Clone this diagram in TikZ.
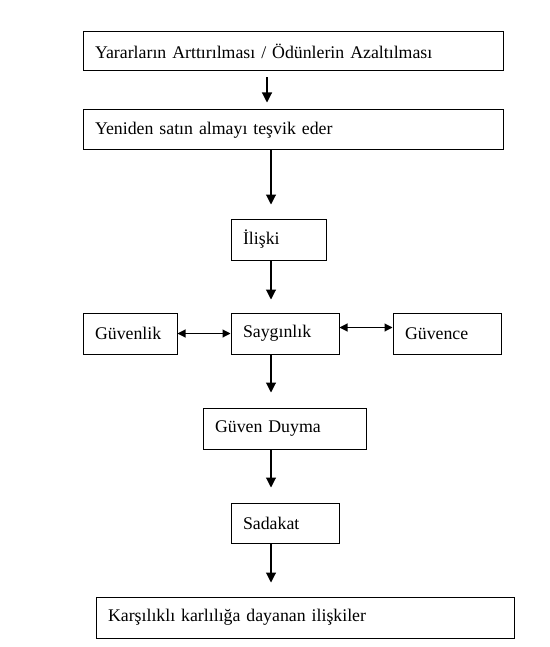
\documentclass[tikz,border=0pt]{standalone}
\usepackage{fontspec}
\setmainfont{Liberation Serif}
\usetikzlibrary{arrows.meta,calc}

\begin{document}
\begin{tikzpicture}[x=1pt,y=-1pt,
    kutu/.style={draw,line width=1pt,minimum height=41pt,inner xsep=12pt,
        align=left,font=\fontsize{17.8}{21}\selectfont},
    ok/.style={-{Triangle[length=10pt,width=10pt]},line width=1.1pt},
    ciftok/.style={{Triangle[length=8pt,width=8pt]}-{Triangle[length=8pt,width=8pt]},line width=1.1pt}]
    \useasboundingbox (0,0) rectangle (549,647);
    % kutular
    \node[kutu,text width=396pt,minimum height=39pt] (yarar) at (293,51.5)
        {Yararların Arttırılması / Ödünlerin Azaltılması};
    \node[kutu,text width=396pt,minimum height=40pt] (satin) at (293,130)
        {Yeniden satın almayı teşvik eder};
    \node[kutu,text width=71pt] (iliski) at (278.5,239.5) {İlişki};
    \node[kutu,text width=70pt] (guvenlik) at (130,333.5) {Güvenlik};
    \node[kutu,text width=84pt] (saygi) at (285,333.5) {Saygınlık};
    \node[kutu,text width=84pt] (guvence) at (447,333.5) {Güvence};
    \node[kutu,text width=139pt] (duyma) at (284.5,428.5) {Güven Duyma};
    \node[kutu,text width=84pt,minimum height=40pt] (sadakat) at (285,523) {Sadakat};
    \node[kutu,text width=394pt] (karsilik) at (305,617.5)
        {Karşılıklı karlılığa dayanan ilişkiler};
    % oklar
    \coordinate (k1) at (267,0);
    \coordinate (k2) at (271,0);
    \draw[ok] ($(yarar.south -| k1)+(0,6)$) -- ($(satin.north -| k1)+(0,-7)$);
    \draw[ok] (satin.south -| k2) -- ($(iliski.north -| k2)+(0,-14)$);
    \draw[ok] (iliski.south -| k2) -- ($(saygi.north -| k2)+(0,-13)$);
    \draw[ok] (saygi.south -| k2) -- ($(duyma.north -| k2)+(0,-15)$);
    \draw[ok] (duyma.south -| k2) -- ($(sadakat.north -| k2)+(0,-15)$);
    \draw[ok] (sadakat.south -| k2) -- ($(karsilik.north -| k2)+(0,-14)$);
    \draw[ciftok] (guvenlik.east) -- (saygi.west);
    \draw[ciftok] ($(saygi.east)+(0,-6)$) -- ($(guvence.west)+(0,-6)$);
\end{tikzpicture}
\end{document}
